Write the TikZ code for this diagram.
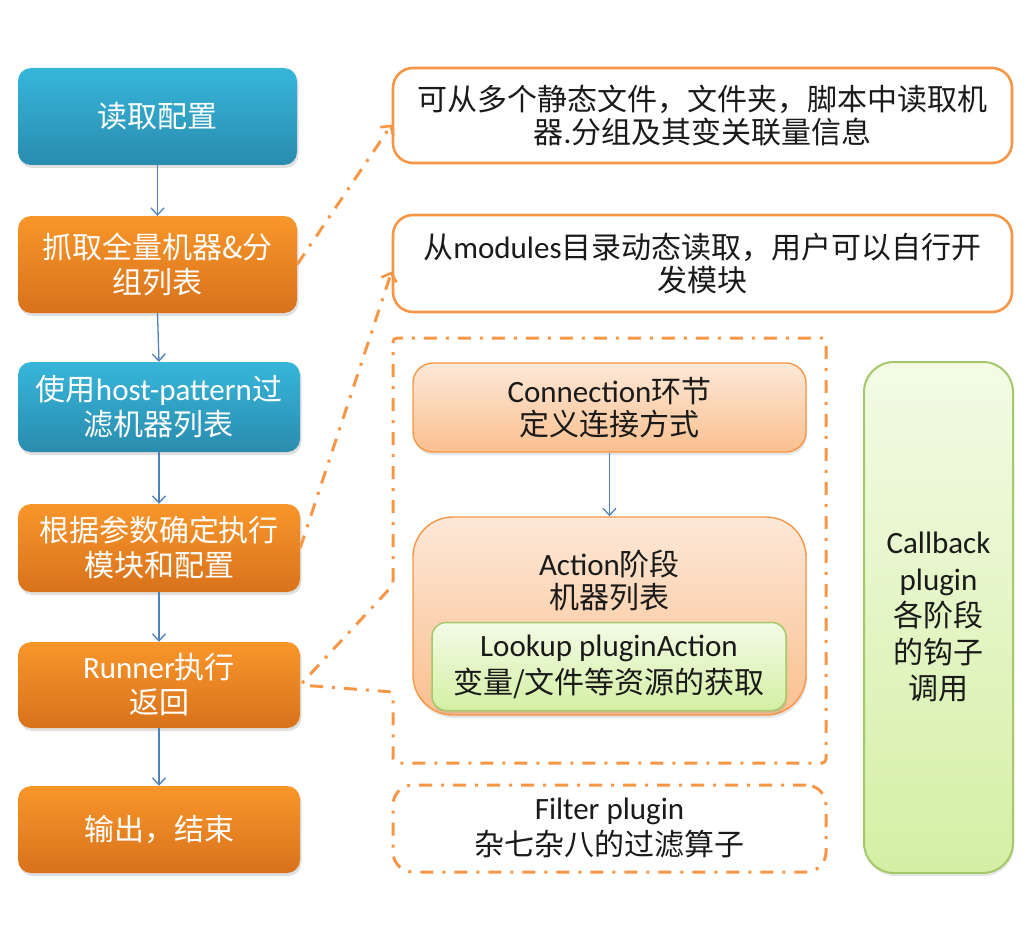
\documentclass[tikz,border=0pt]{standalone}
\usepackage{fontspec}
\setmainfont{Carlito}
\newfontfamily\cjk{Noto Sans CJK SC}
\newfontfamily\lat{Carlito}
\newcommand\LT[1]{{\lat\fontsize{31}{33}\selectfont #1}}
\usetikzlibrary{arrows.meta,shadows,positioning}
\definecolor{acc}{HTML}{F79646}
\definecolor{bluetop}{HTML}{36B6DA}
\definecolor{bluebot}{HTML}{2A8CAE}
\definecolor{orgtop}{HTML}{F8962A}
\definecolor{orgbot}{HTML}{D8721C}
\definecolor{arrblue}{HTML}{4F81BD}
\definecolor{peachtop}{HTML}{FDE8D8}
\definecolor{peachbot}{HTML}{FAC08F}
\definecolor{greentop}{HTML}{F3FBE6}
\definecolor{greenbot}{HTML}{D4EFA4}
\definecolor{greenline}{HTML}{A3C96A}
\definecolor{txt}{HTML}{1A1A1A}
\tikzset{
  flowbox/.style={rounded corners=13pt, draw=none, shading=axis,
    text=white, align=center, inner sep=0pt,
    font=\cjk\fontsize{30}{35}\selectfont,
    drop shadow={opacity=0.25, shadow xshift=1.5pt, shadow yshift=-3pt}},
  bluebox/.style={flowbox, top color=bluetop, bottom color=bluebot},
  orgbox/.style={flowbox, top color=orgtop, bottom color=orgbot},
  flowarrow/.style={draw=arrblue, line width=1.3pt, -{Straight Barb[length=7pt,width=13pt,line width=1.3pt]}},
  notebox/.style={rounded corners=20pt, draw=acc, line width=2.6pt, fill=white,
    text=txt, align=center, inner sep=0pt,
    font=\cjk\fontsize{30}{33}\selectfont},
  dashdot/.style={draw=acc, line width=3pt, dash pattern=on 13pt off 9pt on 3pt off 9pt},
  dasharrow/.style={dashdot, -{Straight Barb[length=7pt,width=16pt,line width=2.6pt]}},
  peachbox/.style={draw=acc, line width=1.4pt, shading=axis, top color=peachtop, bottom color=peachbot,
    text=txt, align=center, inner sep=0pt, font=\cjk\fontsize{30}{33}\selectfont,
    drop shadow={opacity=0.2, shadow xshift=1pt, shadow yshift=-3pt}},
  greenbox/.style={draw=greenline, line width=1.5pt, shading=axis, top color=greentop, bottom color=greenbot,
    text=txt, align=center, inner sep=0pt, font=\cjk\fontsize{30}{37}\selectfont,
    drop shadow={opacity=0.2, shadow xshift=1pt, shadow yshift=-3pt}},
  plain/.style={text=txt, align=center, inner sep=0pt, font=\cjk\fontsize{30}{33}\selectfont}
}
\begin{document}
\begin{tikzpicture}[x=1pt,y=-1pt]
\useasboundingbox (0,0) rectangle (1034,931);
% left flow
\node[bluebox, minimum width=279pt, minimum height=97pt] (b1) at (157.5,116.5) {读取配置};
\node[orgbox, minimum width=279pt, minimum height=97pt] (b2) at (157.5,264.5) {抓取全量机器\&分\\组列表};
\node[bluebox, minimum width=282pt, minimum height=90pt] (b3) at (159,407) {使用\LT{host-pattern}过\\滤机器列表};
\node[orgbox, minimum width=282pt, minimum height=88pt] (b4) at (159,548) {根据参数确定执行\\模块和配置};
\node[orgbox, minimum width=282pt, minimum height=86pt] (b5) at (159,685) {\LT{Runner}执行\\返回};
\node[orgbox, minimum width=282pt, minimum height=87pt] (b6) at (159,829.5) {输出，结束};
\draw[flowarrow] (b1.south) -- (b2.north);
\draw[flowarrow] (b2.south) -- (b3.north);
\draw[flowarrow] (b3.south) -- (b4.north);
\draw[flowarrow] (b4.south) -- (b5.north);
\draw[flowarrow] (b5.south) -- (b6.north);
% notes
\node[notebox, minimum width=619pt, minimum height=95pt] (r1) at (702.5,115.5) {可从多个静态文件，文件夹，脚本中读取机\\器\LT{.}分组及其变关联量信息};
\node[notebox, minimum width=619pt, minimum height=97pt] (r2) at (702.5,263.5) {从\LT{modules}目录动态读取，用户可以自行开\\发模块};
\draw[dasharrow] (b2.east) -- ([yshift=-9pt]r1.west);
\draw[dasharrow] (b4.east) -- ([yshift=-8pt]r2.west);
% region callout
\draw[dashdot, rounded corners=4pt] (393,585) -- (393,338) -- (826,338) -- (826,763) -- (393,763) -- (393,692) -- (b5.east) -- cycle;
% inner boxes
\node[peachbox, rounded corners=20pt, minimum width=393pt, minimum height=89pt] (conn) at (609.5,407.5) {\LT{Connection}环节\\定义连接方式};
\node[peachbox, rounded corners=40pt, minimum width=393pt, minimum height=198pt] (act) at (609.5,616) {};
\node[plain] (acttxt) at (609.5,581) {\LT{Action}阶段\\机器列表};
\node[greenbox, rounded corners=14pt, minimum width=354pt, minimum height=88pt] (look) at (609,666.5) {\LT{Lookup pluginAction}\\变量/文件等资源的获取};
\draw[flowarrow] (conn.south) -- (act.north);
% callback
\node[greenbox, rounded corners=30pt, line width=2pt, minimum width=149pt, minimum height=511pt, font=\cjk\fontsize{30}{36.5}\selectfont] (cb) at (938.5,617.5) {\LT{Callback}\\\LT{plugin}\\各阶段\\的钩子\\调用};
% filter
\node[dashdot, rounded corners=20pt, minimum width=433pt, minimum height=87pt, text=txt, align=center, inner sep=0pt, font=\cjk\fontsize{30}{36}\selectfont] (flt) at (609.5,828.5) {\LT{Filter plugin}\\杂七杂八的过滤算子};
\end{tikzpicture}
\end{document}
